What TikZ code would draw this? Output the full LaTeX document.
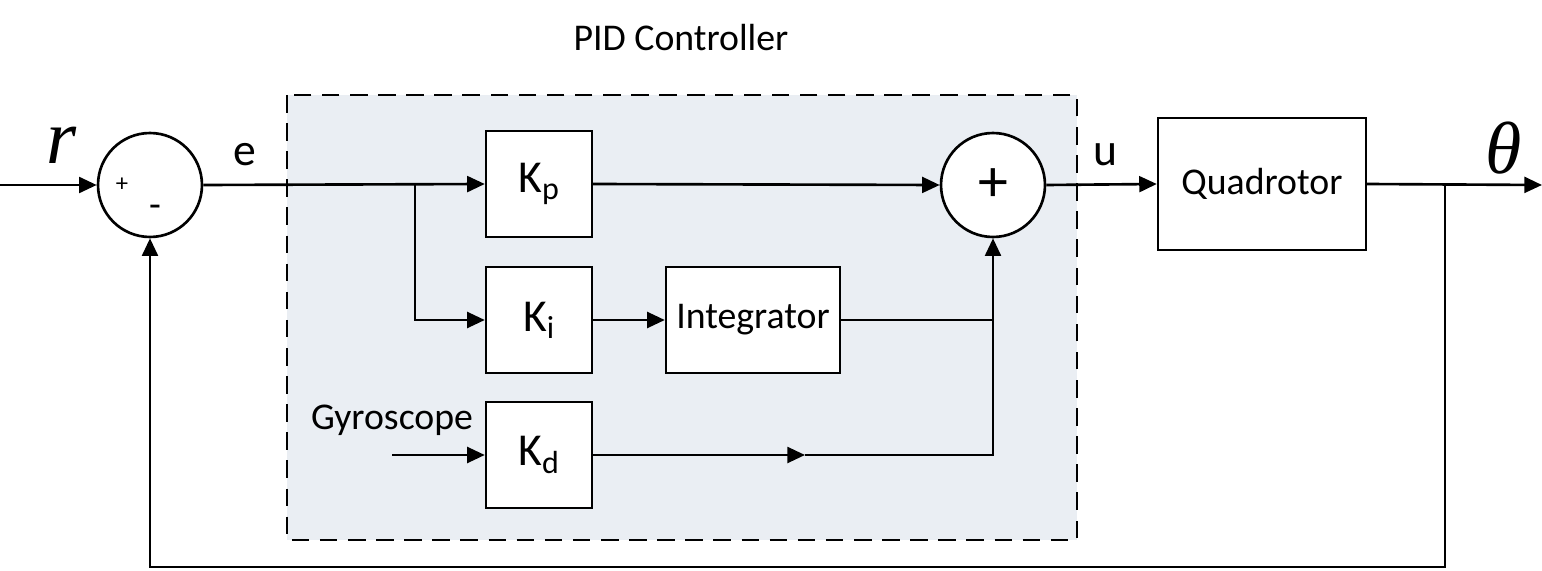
\documentclass[tikz,border=0pt]{standalone}
\usepackage{fontspec}
\setmainfont{Carlito}
\newfontfamily\symfont{Liberation Serif}
\usetikzlibrary{arrows.meta}
\definecolor{pidbg}{RGB}{234,238,243}

\tikzset{
  sig/.style={line width=1.5pt},
  sigarrow/.style={sig, -{Triangle[length=10pt,width=9pt]}},
  blockbox/.style={draw, line width=1.4pt, fill=white, minimum width=2.12cm, minimum height=2.12cm, font=\fontsize{26}{28}\selectfont},
  sumnode/.style={draw, circle, line width=1.5pt, fill=white, minimum size=2.08cm, inner sep=0pt},
  lbl/.style={font=\fontsize{21.5}{24}\selectfont},
}

\begin{document}
\begin{tikzpicture}[x=0.02cm, y=-0.02cm]
  \useasboundingbox (0,0) rectangle (1542,571);
  % controller frame
  \draw[dash pattern=on 10pt off 6pt, line width=1.2pt, fill=pidbg] (287,95) rectangle (1077,540);
  \node[lbl] (pidtitle) at (681,38) {PID Controller};

  % blocks
  \node[sumnode] (sum1) at (150,185) {};
  \node[font=\fontsize{14}{16}\selectfont] (plus1) at (122,185) {+};
  \node[font=\fontsize{22}{24}\selectfont] (minus1) at (155,211) {-};
  \node[blockbox] (kp) at (539,184) {K\textsubscript{p}};
  \node[blockbox] (ki) at (539,320) {K\textsubscript{i}};
  \node[blockbox] (kd) at (539,455) {K\textsubscript{d}};
  \node[blockbox, minimum width=3.48cm, font=\fontsize{21.5}{24}\selectfont] (integ) at (753,320) {Integrator};
  \node[sumnode, font=\fontsize{34}{36}\selectfont] (sum2) at (993,185) {+};
  \node[blockbox, minimum width=4.16cm, minimum height=2.64cm, font=\fontsize{21.5}{24}\selectfont] (quad) at (1262,184) {Quadrotor};

  % labels
  \node[font=\fontsize{44}{46}\symfont\itshape] (rlbl) at (62,145) {r};
  \node[font=\fontsize{42}{44}\symfont\itshape] (thlbl) at (1504,148) {θ};
  \node[font=\fontsize{26}{28}\selectfont] (elbl) at (245,155) {e};
  \node[font=\fontsize{26}{28}\selectfont] (ulbl) at (1105,155) {u};
  \node[lbl] (gyro) at (392,420) {Gyroscope};

  % helper points
  \coordinate (rin) at (0,185);
  \coordinate (ebr) at (415,185);
  \coordinate (gyin) at (392,455);
  \coordinate (kdmid) at (805,455);
  \coordinate (thout) at (1542,185);
  \coordinate (fbr) at (1445,185);
  \coordinate (fbbot) at (1445,567);

  % signals
  \draw[sigarrow] (rin) -- (sum1.west);
  \draw[sigarrow] (sum1.east) -- (kp.west);
  \draw[sigarrow] (ebr) |- (ki.west);
  \draw[sigarrow] (kp.east) -- (sum2.west);
  \draw[sigarrow] (ki.east) -- (integ.west);
  \draw[sig] (integ.east) -- (integ.east -| sum2.south);
  \draw[sigarrow] (gyin) -- (kd.west);
  \draw[sigarrow] (kd.east) -- (kdmid);
  \draw[sigarrow] (kdmid) -| (sum2.south);
  \draw[sigarrow] (sum2.east) -- (quad.west);
  \draw[sigarrow] (quad.east) -- (thout);
  \draw[sigarrow] (fbr) -- (fbbot) -| (sum1.south);
\end{tikzpicture}
\end{document}
